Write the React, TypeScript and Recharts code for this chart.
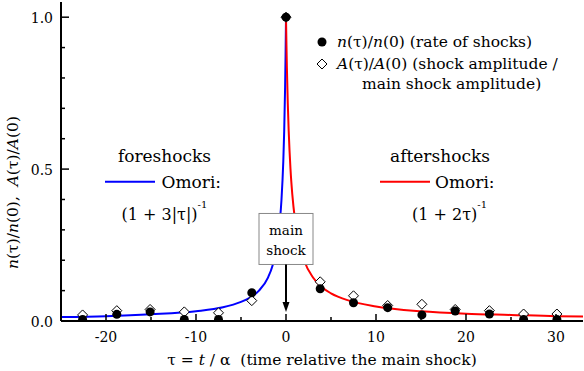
import React from 'react';
import { ComposedChart, Line, Scatter, XAxis, YAxis, ReferenceDot, Legend } from 'recharts';

const FONT = 'DejaVu Serif';

// Tick positions and labels
const xTicks = [-20, -15, -10, -5, 0, 5, 10, 15, 20, 25, 30];
const xTickLabels = [-20, -10, 0, 10, 20, 30];
const yTicks = [0, 0.1, 0.2, 0.3, 0.4, 0.5, 0.6, 0.7, 0.8, 0.9, 1.0];
const yTickLabels = [0, 0.5, 1.0];

// Measured points (tau = t / alpha)
const tauPoints = [-22.6, -18.8, -15.1, -11.3, -7.5, -3.8, 0, 3.8, 7.5, 11.3, 15.1, 18.8, 22.6, 26.4, 30.1];
const rateValues = [0.005, 0.022, 0.03, 0.005, 0.005, 0.093, 1.0, 0.106, 0.06, 0.044, 0.02, 0.033, 0.023, 0.005, 0.005];
const amplitudeValues = [0.02, 0.034, 0.038, 0.03, 0.027, 0.067, 1.0, 0.129, 0.083, 0.051, 0.055, 0.038, 0.034, 0.023, 0.023];

// Omori curves
const foreTau = [-25, -20, -15, -10, -7, -5, -4, -3, -2, -1.5, -1, -0.7, -0.5, -0.3, -0.2, -0.1, -0.05, 0];
const foreValues = [0.013, 0.016, 0.022, 0.032, 0.045, 0.063, 0.077, 0.1, 0.143, 0.182, 0.25, 0.323, 0.4, 0.526, 0.625, 0.769, 0.87, 1.0];
const afterTau = [0, 0.05, 0.1, 0.2, 0.3, 0.5, 0.7, 1, 1.5, 2, 3, 4, 5, 7, 10, 15, 20, 25, 30, 33];
const afterValues = [1.0, 0.909, 0.833, 0.714, 0.625, 0.5, 0.417, 0.333, 0.25, 0.2, 0.143, 0.111, 0.091, 0.067, 0.048, 0.032, 0.024, 0.02, 0.016, 0.015];

const rateData = tauPoints.map((x, i) => ({ x, y: rateValues[i] }));
const ampData = tauPoints.map((x, i) => ({ x, y: amplitudeValues[i] }));
const foreData = foreTau.map((x, i) => ({ x, y: foreValues[i] }));
const afterData = afterTau.map((x, i) => ({ x, y: afterValues[i] }));

const X_DOMAIN = [-25, 33];
const Y_DOMAIN = [0, 1.05];

const isMajorX = (v: number) => xTickLabels.some((t) => Math.abs(t - v) < 1e-9);
const isMajorY = (v: number) => yTickLabels.some((t) => Math.abs(t - v) < 1e-9);

const BottomTick = (props: any) => {
  const { x, y, payload } = props;
  const major = isMajorX(payload.value);
  return (
    <g>
      <line x1={x} x2={x} y1={y} y2={y - (major ? 7 : 4)} stroke="#000" strokeWidth={1.5} />
      {major && (
        <text x={x} y={y + 21} textAnchor="middle" fontFamily={FONT} fontSize={14} fill="#000">
          {String(payload.value)}
        </text>
      )}
    </g>
  );
};

const TopTick = (props: any) => {
  const { x, y } = props;
  return <line x1={x} x2={x} y1={y} y2={y + 5} stroke="#000" strokeWidth={1.5} />;
};

const LeftTick = (props: any) => {
  const { x, y, payload } = props;
  const major = isMajorY(payload.value);
  return (
    <g>
      <line x1={x} x2={x + (major ? 8 : 4)} y1={y} y2={y} stroke="#000" strokeWidth={1.5} />
      {major && (
        <text x={x - 8} y={y + 6} textAnchor="end" fontFamily={FONT} fontSize={14} fill="#000">
          {Number(payload.value).toFixed(1)}
        </text>
      )}
    </g>
  );
};

const RightTick = (props: any) => {
  const { x, y } = props;
  return <line x1={x} x2={x - 5} y1={y} y2={y} stroke="#000" strokeWidth={1.5} />;
};

const CircleShape = (props: any) => {
  const { cx, cy } = props;
  return <circle cx={cx} cy={cy} r={4.5} fill="#000" />;
};

const DiamondShape = (props: any) => {
  const { cx, cy } = props;
  const s = 5;
  return (
    <polygon
      points={`${cx},${cy - s} ${cx + s},${cy} ${cx},${cy + s} ${cx - s},${cy}`}
      fill="#fff"
      stroke="#000"
      strokeWidth={1}
    />
  );
};

const YTitle = (props: any) => {
  const vb = props.viewBox || { x: 0, y: 0, width: 61, height: 319 };
  const cx = vb.x + 13;
  const cy = vb.y + vb.height / 2 + 31;
  return (
    <text
      x={cx}
      y={cy}
      transform={`rotate(-90, ${cx}, ${cy})`}
      textAnchor="middle"
      dominantBaseline="central"
      fontFamily={FONT}
      style={{ whiteSpace: 'pre' }}
      fontSize={15.5}
      fill="#000"
    >
      <tspan fontStyle="italic">n</tspan>(τ)/<tspan fontStyle="italic">n</tspan>(0),{'\u00a0\u00a0'}
      <tspan fontStyle="italic">A</tspan>(τ)/<tspan fontStyle="italic">A</tspan>(0)
    </text>
  );
};

const XTitle = (props: any) => {
  const vb = props.viewBox || { x: 61, y: 321, width: 522, height: 50 };
  const cx = vb.x + vb.width / 2;
  return (
    <text x={cx} y={vb.y + 44} textAnchor="middle" fontFamily={FONT} fontSize={15.5} fill="#000">
      τ = <tspan fontStyle="italic">t</tspan> / α{'\u00a0\u00a0'}(time relative the main shock)
    </text>
  );
};

const ForeshockNote = (props: any) => {
  const { cx, cy } = props;
  return (
    <g fontFamily={FONT} fill="#000">
      <text x={cx} y={cy - 7.5} textAnchor="middle" fontFamily={FONT} fontSize={17}>foreshocks</text>
      <line x1={cx - 59.5} x2={cx - 9.5} y1={cy + 12.6} y2={cy + 12.6} stroke="#0000ff" strokeWidth={2} />
      <text x={cx - 3} y={cy + 19} fontFamily={FONT} fontSize={17}>Omori:</text>
      <text x={cx - 43} y={cy + 51} fontFamily={FONT} fontSize={16}>
        (1 + 3|τ|)
        <tspan fontSize={10} dy={-12}>-1</tspan>
      </text>
    </g>
  );
};

const AftershockNote = (props: any) => {
  const { cx, cy } = props;
  return (
    <g fontFamily={FONT} fill="#000">
      <text x={cx + 1} y={cy - 7.5} textAnchor="middle" fontFamily={FONT} fontSize={17}>aftershocks</text>
      <line x1={cx - 59} x2={cx - 9} y1={cy + 12.6} y2={cy + 12.6} stroke="#ff0000" strokeWidth={2} />
      <text x={cx - 4} y={cy + 19} fontFamily={FONT} fontSize={17}>Omori:</text>
      <text x={cx - 27} y={cy + 51} fontFamily={FONT} fontSize={16}>
        (1 + 2τ)
        <tspan fontSize={10} dy={-12}>-1</tspan>
      </text>
    </g>
  );
};

const MainShockBox = (props: any) => {
  const { cx, cy } = props;
  return (
    <g fontFamily={FONT}>
      <rect x={cx - 27} y={cy - 25.5} width={54} height={51} fill="#fff" stroke="#888" strokeWidth={1} />
      <text x={cx} y={cy - 4} textAnchor="middle" fontFamily={FONT} fontSize={13.5} fill="#000">main</text>
      <text x={cx} y={cy + 16} textAnchor="middle" fontFamily={FONT} fontSize={13.5} fill="#000">shock</text>
      <line x1={cx} x2={cx} y1={cy + 25.5} y2={cy + 66} stroke="#000" strokeWidth={2} />
      <polygon points={`${cx - 3.5},${cy + 63} ${cx + 3.5},${cy + 63} ${cx},${cy + 73}`} fill="#000" />
    </g>
  );
};

const LegendContent = () => (
  <svg width={274} height={72} style={{ display: 'block', overflow: 'visible' }}>
    <g fontFamily={FONT} fontSize={15.5} fill="#000">
      <circle cx={12} cy={14} r={4.5} fill="#000" />
      <polygon points="12,31 17,36 12,41 7,36" fill="#fff" stroke="#000" strokeWidth={1} />
      <text x={27} y={19} style={{ whiteSpace: 'pre' }} fontFamily={FONT} fontSize={15.5}>
        <tspan fontStyle="italic">n</tspan>(τ)/<tspan fontStyle="italic">n</tspan>(0) (rate of shocks)
      </text>
      <text x={27} y={40.5} style={{ whiteSpace: 'pre' }} fontFamily={FONT} fontSize={15.5}>
        <tspan fontStyle="italic">A</tspan>(τ)/<tspan fontStyle="italic">A</tspan>(0) (shock amplitude /
      </text>
      <text x={52} y={61} fontFamily={FONT} fontSize={15.5}>main shock amplitude)</text>
    </g>
  </svg>
);

export default function App() {
  return (
    <div style={{ position: 'absolute', left: 0, top: 0, width: 584, height: 371, background: '#fff' }}>
      <ComposedChart width={584} height={371} margin={{ top: 2, right: 1, bottom: 0, left: 0 }}>
        <XAxis
          xAxisId="bottom"
          dataKey="x"
          type="number"
          domain={X_DOMAIN}
          ticks={xTicks}
          allowDataOverflow
          height={50}
          tickSize={0}
          tickMargin={0}
          tickLine={false}
          tick={<BottomTick />}
          axisLine={{ stroke: '#000', strokeWidth: 2 }}
          label={(p: any) => <XTitle {...p} />}
        />
        <XAxis
          xAxisId="top"
          orientation="top"
          dataKey="x"
          type="number"
          domain={X_DOMAIN}
          ticks={xTicks}
          allowDataOverflow
          height={0}
          tickSize={0}
          tickMargin={0}
          tickLine={false}
          tick={<TopTick />}
          axisLine={{ stroke: '#000', strokeWidth: 2 }}
        />
        <YAxis
          yAxisId="left"
          dataKey="y"
          type="number"
          domain={Y_DOMAIN}
          ticks={yTicks}
          allowDataOverflow
          width={61}
          tickSize={0}
          tickMargin={0}
          tickLine={false}
          tick={<LeftTick />}
          axisLine={{ stroke: '#000', strokeWidth: 2 }}
          label={(p: any) => <YTitle {...p} />}
        />
        <YAxis
          yAxisId="right"
          orientation="right"
          dataKey="y"
          type="number"
          domain={Y_DOMAIN}
          ticks={yTicks}
          allowDataOverflow
          width={0}
          tickSize={0}
          tickMargin={0}
          tickLine={false}
          tick={<RightTick />}
          axisLine={{ stroke: '#000', strokeWidth: 2 }}
        />
        <Line
          xAxisId="bottom"
          yAxisId="left"
          data={foreData}
          dataKey="y"
          type="monotone"
          stroke="#0000ff"
          strokeWidth={2}
          dot={false}
          activeDot={false}
          legendType="none"
          isAnimationActive={false}
        />
        <Line
          xAxisId="bottom"
          yAxisId="left"
          data={afterData}
          dataKey="y"
          type="monotone"
          stroke="#ff0000"
          strokeWidth={2}
          dot={false}
          activeDot={false}
          legendType="none"
          isAnimationActive={false}
        />
        <Scatter
          xAxisId="bottom"
          yAxisId="left"
          name="A(τ)/A(0)"
          data={ampData}
          dataKey="y"
          shape={<DiamondShape />}
          isAnimationActive={false}
        />
        <Scatter
          xAxisId="bottom"
          yAxisId="left"
          name="n(τ)/n(0)"
          data={rateData}
          dataKey="y"
          shape={<CircleShape />}
          isAnimationActive={false}
        />
        <ReferenceDot xAxisId="bottom" yAxisId="left" x={-13.5} y={0.5} shape={<ForeshockNote />} zIndex={1000} />
        <ReferenceDot xAxisId="bottom" yAxisId="left" x={17} y={0.5} shape={<AftershockNote />} zIndex={1000} />
        <ReferenceDot xAxisId="bottom" yAxisId="left" x={0} y={0.27} shape={<MainShockBox />} zIndex={1000} />
        <Legend
          layout="vertical"
          verticalAlign="middle"
          align="center"
          wrapperStyle={{ left: 310, top: 28, width: 274, height: 72 }}
          content={<LegendContent />}
        />
      </ComposedChart>
    </div>
  );
}
